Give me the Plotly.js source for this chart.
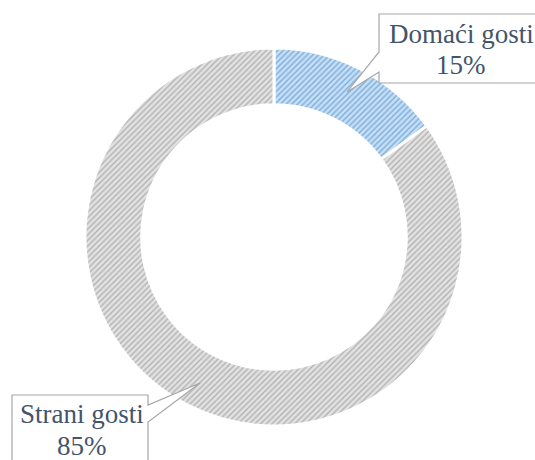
<!DOCTYPE html>
<html>
<head>
<meta charset="utf-8">
<script src="https://cdn.plot.ly/plotly-3.0.1.min.js"></script>
<style>html,body{margin:0;padding:0;background:#fff;}#chart{width:535px;height:460px;}</style>
</head>
<body>
<div id="chart"></div>
<script>
// Data
const categories = ['Domaći gosti', 'Strani gosti'];
const values = [15, 85];
const percentLabels = ['15%', '85%'];

// Styling
const W = 535, H = 460;
const px = x => x / W;
const py = y => 1 - y / H;
const pathOf = pts => 'M' + pts.map(p => px(p[0]).toFixed(5) + ',' + py(p[1]).toFixed(5)).join(' L') + ' Z';
const textColor = '#44546A';
const font = {family: '"Liberation Serif", "Times New Roman", serif', size: 27, color: textColor};

const trace = {
  type: 'pie',
  labels: categories,
  values: values,
  hole: 0.70,
  sort: false,
  direction: 'clockwise',
  rotation: 0,
  textinfo: 'none',
  hoverinfo: 'none',
  showlegend: false,
  domain: {x: [px(85), px(463)], y: [py(426), py(48)]},
  marker: {
    colors: ['#c5dcf2', '#dcdcdc'],
    line: {color: '#ffffff', width: 3},
    pattern: {
      shape: '/',
      fgcolor: ['#78aee0', '#b2b2b2'],
      bgcolor: ['#c8def3', '#e2e2e2'],
      size: 4,
      solidity: 0.35
    }
  }
};

const boxLine = {color: '#a6a6a6', width: 1.2};
const shapes = [
  {type: 'path', xref: 'paper', yref: 'paper', fillcolor: '#ffffff', line: boxLine,
   path: pathOf([[379,14],[545,14],[545,83],[379,83],[379,72],[347,92],[379,52]])},
  {type: 'path', xref: 'paper', yref: 'paper', fillcolor: '#ffffff', line: boxLine,
   path: pathOf([[12,395],[148,395],[148,405],[200,383],[148,422],[148,475],[12,475]])}
];

const annotations = [
  {text: categories[0], x: px(461), y: py(34), xanchor: 'center', yanchor: 'middle'},
  {text: percentLabels[0], x: px(461), y: py(65), xanchor: 'center', yanchor: 'middle'},
  {text: categories[1], x: px(82), y: py(414), xanchor: 'center', yanchor: 'middle'},
  {text: percentLabels[1], x: px(82), y: py(446), xanchor: 'center', yanchor: 'middle'}
].map(a => Object.assign({xref: 'paper', yref: 'paper', showarrow: false, font: font}, a));

const layout = {
  width: W, height: H,
  margin: {l: 0, r: 0, t: 0, b: 0},
  paper_bgcolor: '#ffffff',
  plot_bgcolor: '#ffffff',
  showlegend: false,
  shapes: shapes,
  annotations: annotations
};

Plotly.newPlot('chart', [trace], layout, {displayModeBar: false, staticPlot: true});
</script>
</body>
</html>
